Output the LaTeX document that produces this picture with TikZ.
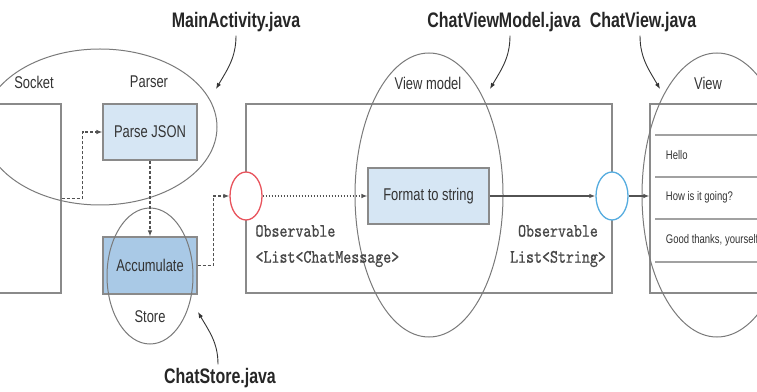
\documentclass[tikz,border=0pt]{standalone}
\usepackage{fontspec}
\newfontfamily\narrowsf[FakeStretch=0.76]{Liberation Sans}
\newfontfamily\codett[FakeStretch=0.8, FakeBold=0.7]{lmmono10-regular.otf}
\usetikzlibrary{arrows.meta, positioning, shapes}

\definecolor{linegray}{HTML}{8A8A8A}
\definecolor{ringgray}{HTML}{7A7A7A}
\definecolor{textgray}{HTML}{333333}
\definecolor{lightbox}{HTML}{D6E6F4}
\definecolor{darkbox}{HTML}{A9C9E6}
\definecolor{obsred}{HTML}{E8535C}
\definecolor{obsblue}{HTML}{55ACDF}

\begin{document}
\begin{tikzpicture}[
    x = 1pt, y = 1pt,
    > = {Latex[length=6pt, width=4.5pt]}, % arrow head style
    line width = 1.1pt,
    font = \narrowsf\fontsize{17}{20}\selectfont,
    text = textgray
    ]

    \tikzset{
    frame/.style = {draw = linegray, rectangle, inner sep = 0pt},
    block/.style = {draw = linegray, minimum width = 94pt, minimum height = 56pt, inner sep = 0pt},
    ring/.style = {draw = ringgray, ellipse, line width = 1pt, inner sep = 0pt},
    port/.style = {draw, ellipse, line width = 1.3pt, fill = white, minimum width = 32pt, minimum height = 48pt, inner sep = 0pt},
    flow/.style = {->, draw = textgray!85, dash pattern = on 3pt off 2pt},
    filename/.style = {font = \narrowsf\bfseries\fontsize{21}{24}\selectfont, text = black!85},
    callout/.style = {->, draw = textgray, line width = 0.9pt},
    code/.style = {font = \codett\fontsize{19}{26}\selectfont, text = textgray!90, inner sep = 0pt},
    chat/.style = {anchor = west, font = \narrowsf\fontsize{12.5}{14}\selectfont}
    }

    \clip (0,0) rectangle (757,391);

    % frames
    \node[frame, minimum width=100pt, minimum height=189pt] (socket) at (11,192.5) {};
    \node[frame, minimum width=366pt, minimum height=189pt] (vmbox) at (429,192.5) {};
    \node[frame, minimum width=150pt, minimum height=189pt] (viewbox) at (725,192.5) {};

    % list rows
    \foreach \y in {256,214,172,129}
        \draw[linegray!80] (655,\y) -- (760,\y);
    \node[chat] (msg1) at (662,236) {Hello};
    \node[chat] (msg2) at (662,194) {How is it going?};
    \node[chat] (msg3) at (662,151) {Good thanks, yourself?};

    % processing steps
    \node[block, fill=lightbox] (parse) at (150,259) {Parse JSON};
    \node[block, fill=darkbox, minimum height=57pt] (accum) at (150,125.5) {Accumulate};
    \node[block, fill=lightbox, minimum width=121pt] (format) at (428.5,195) {Format to string};

    % component scopes
    \node[ring, minimum width=234pt, minimum height=156pt] (parserring) at (100,264) {};
    \node[ring, minimum width=86pt, minimum height=136pt] (storering) at (150,115) {};
    \node[ring, minimum width=148pt, minimum height=284pt] (vmring) at (429,196) {};
    \node[ring, minimum width=150pt, minimum height=284pt] (viewring) at (717,196) {};

    \node (sockettxt) at (34,309) {Socket};
    \node (parsertxt) at (149,309) {Parser};
    \node (storetxt) at (150,74) {Store};
    \node (vmtxt) at (428,308) {View model};
    \node (viewtxt) at (708,308) {View};

    % observables
    \node[port, draw=obsred] (inport) at (246,195) {};
    \node[port, draw=obsblue] (outport) at (612,195) {};

    \node[code, anchor=west, align=left] (obsin) at (255,145) {Observable\\<List<ChatMessage>};
    \node[code, align=center] (obsout) at (558,145) {Observable\\List<String>};

    % data flow
    \draw[flow] (socket.east) -- ++(21,0) |- (parse.west);
    \draw[flow] (parse) -- (accum);
    \draw[flow] (accum.east) -- ++(16,0) |- (inport.west);
    \draw[flow, dash pattern=on 1.5pt off 1.5pt] (inport) -- (format);
    \draw[->, draw=textgray!85, line width=1.3pt] (format) -- (outport);
    \draw[->, draw=textgray!85, line width=1.3pt] (outport) -- (outport -| viewbox.west);

    % source files
    \node[filename] (mainfile) at (236,369) {MainActivity.java};
    \node[filename] (vmfile) at (504,369) {ChatViewModel.java};
    \node[filename] (viewfile) at (643,369) {ChatView.java};
    \node[filename] (storefile) at (220,13) {ChatStore.java};

    \coordinate (mainend) at (216,302);
    \coordinate (vmend) at (490,302);
    \coordinate (viewend) at (660,302);
    \coordinate (storeend) at (198,79);

    \draw[callout] (mainfile.south) to[out=-90, in=60] (mainend);
    \draw[callout] ([xshift=6pt]vmfile.south) to[out=-90, in=60] (vmend);
    \draw[callout] ([xshift=-3pt]viewfile.south) to[out=-90, in=120] (viewend);
    \draw[callout] ([xshift=-2pt]storefile.north) to[out=90, in=-60] (storeend);

\end{tikzpicture}
\end{document}
